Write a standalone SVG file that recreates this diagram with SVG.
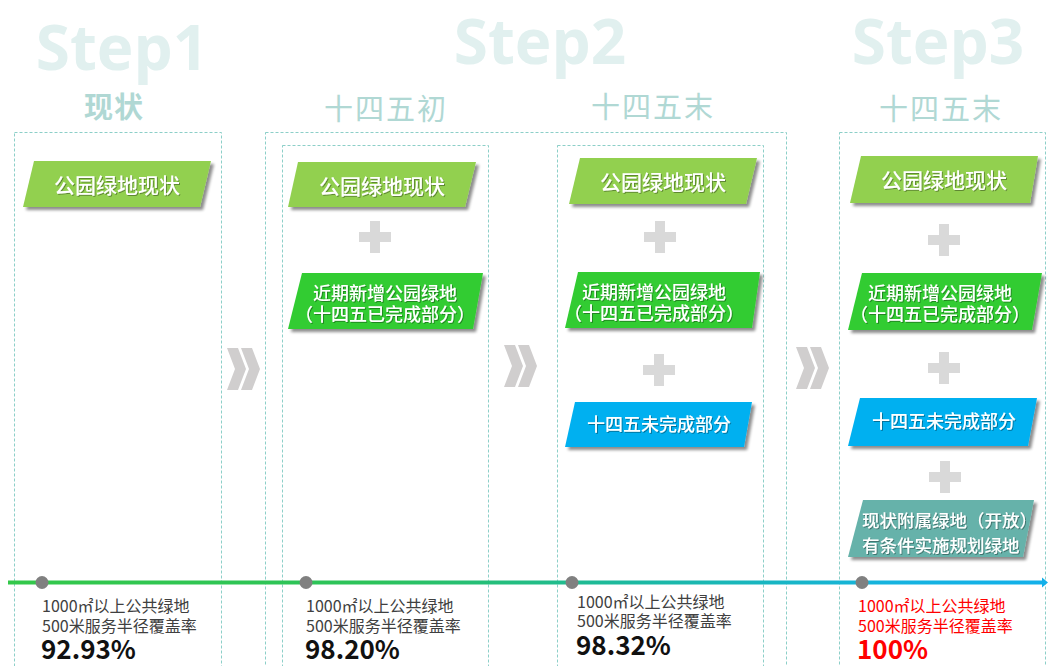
<svg xmlns="http://www.w3.org/2000/svg" width="1048" height="666" viewBox="0 0 1048 666">
<defs>
<style>
.frame{fill:none;stroke:#8ccfc8;stroke-width:1;stroke-dasharray:3 2}
.step{font-family:"Open Sans","DejaVu Sans",sans-serif;font-weight:bold;font-size:62px;fill:#e1f0ef;text-anchor:middle}
.ttl{font-family:"Noto Sans CJK SC",sans-serif;font-size:29px;fill:#b0d8d4;text-anchor:middle;letter-spacing:2px}
.lbl{font-family:"Noto Sans CJK SC",sans-serif;font-weight:500;fill:#ffffff;text-anchor:middle;dominant-baseline:central}
.plus{fill:#d9d9d9}
.chev{fill:#d0cece}
.note{font-family:"Noto Sans CJK SC",sans-serif;font-size:16px;fill:#404040}
.pct{font-family:"Noto Sans CJK SC",sans-serif;font-size:26px;font-weight:bold;fill:#111111}
.red{fill:#ff0000}
.dot{fill:#808080}
</style>
<filter id="sh" x="-10%" y="-20%" width="130%" height="150%">
<feGaussianBlur in="SourceAlpha" stdDeviation="1.5"/>
<feOffset dx="3" dy="3" result="b"/>
<feComponentTransfer><feFuncA type="linear" slope="0.45"/></feComponentTransfer>
<feMerge><feMergeNode/><feMergeNode in="SourceGraphic"/></feMerge>
</filter>
<filter id="ts" x="-5%" y="-20%" width="110%" height="150%">
<feGaussianBlur in="SourceAlpha" stdDeviation="0.6"/>
<feOffset dx="1" dy="1"/>
<feComponentTransfer><feFuncA type="linear" slope="0.35"/></feComponentTransfer>
<feMerge><feMergeNode/><feMergeNode in="SourceGraphic"/></feMerge>
</filter>
<linearGradient id="tl" x1="0" y1="0" x2="1" y2="0">
<stop offset="0" stop-color="#33c84a"/>
<stop offset="0.35" stop-color="#2cc35a"/>
<stop offset="0.6" stop-color="#1cb9a0"/>
<stop offset="0.85" stop-color="#15b3df"/>
<stop offset="1" stop-color="#12b0ea"/>
</linearGradient>
<g id="plusShape"><rect x="-16" y="-5" width="32" height="10"/><rect x="-5" y="-16" width="10" height="32"/></g>
<g id="chevShape"><polygon points="0,0 11,0 19,21 11,42 0,42 8,21"/><polygon points="14,0 25,0 33,21 25,42 14,42 22,21"/></g>
</defs>

<g id="titles">
<text class="step" x="122" y="70">Step1</text>
<text class="step" x="540" y="64">Step2</text>
<text class="step" x="938" y="64">Step3</text>
<text class="ttl" x="114" y="118" style="font-weight:bold;letter-spacing:1px">现状</text>
<text class="ttl" x="386" y="120">十四五初</text>
<text class="ttl" x="653" y="118">十四五末</text>
<text class="ttl" x="941" y="120">十四五末</text>
</g>

<g id="frames">
<rect class="frame" x="14.5" y="132.5" width="207" height="540"/>
<rect class="frame" x="265.5" y="132.5" width="521" height="540"/>
<rect class="frame" x="282.5" y="145.5" width="206" height="530"/>
<rect class="frame" x="557.5" y="145.5" width="206" height="530"/>
<rect class="frame" x="839.5" y="132.5" width="206" height="540"/>
</g>

<g id="connectors">
<rect x="8" y="580.5" width="1036" height="4" fill="url(#tl)"/>
<polygon points="1042,577.5 1048,582.5 1042,587.5" fill="#12b0ea"/>
<use href="#chevShape" class="chev" x="227" y="348"/>
<use href="#chevShape" class="chev" x="504" y="345"/>
<use href="#chevShape" class="chev" x="796" y="347"/>
<use href="#plusShape" class="plus" x="375" y="237"/>
<use href="#plusShape" class="plus" x="660" y="237"/>
<use href="#plusShape" class="plus" x="659" y="370"/>
<use href="#plusShape" class="plus" x="944" y="240"/>
<use href="#plusShape" class="plus" x="944" y="368"/>
<use href="#plusShape" class="plus" x="945" y="477"/>
</g>

<g id="n1-park">
<polygon points="34,161 211,161 200,207 23,207" fill="#92d050" filter="url(#sh)"/>
<text class="lbl" x="117" y="184" font-size="21" filter="url(#ts)">公园绿地现状</text>
</g>

<g id="n2a-park">
<polygon points="298,162 476,162 465,207 288,207" fill="#92d050" filter="url(#sh)"/>
<text class="lbl" x="382" y="185" font-size="21" filter="url(#ts)">公园绿地现状</text>
</g>
<g id="n2a-new">
<polygon points="302,273 483,273 473,329 288,329" fill="#33cc33" filter="url(#sh)"/>
<text class="lbl" x="385" y="292" font-size="18" filter="url(#ts)">近期新增公园绿地</text>
<text class="lbl" x="385" y="313" font-size="18" filter="url(#ts)">（十四五已完成部分）</text>
</g>

<g id="n2b-park">
<polygon points="580,158 757,158 746,204 569,204" fill="#92d050" filter="url(#sh)"/>
<text class="lbl" x="663" y="181" font-size="21" filter="url(#ts)">公园绿地现状</text>
</g>
<g id="n2b-new">
<polygon points="578,272 760,272 752,328 565,328" fill="#33cc33" filter="url(#sh)"/>
<text class="lbl" x="654" y="291" font-size="18" filter="url(#ts)">近期新增公园绿地</text>
<text class="lbl" x="654" y="312" font-size="18" filter="url(#ts)">（十四五已完成部分）</text>
</g>
<g id="n2b-todo">
<polygon points="575,402 752,402 744,447 565,447" fill="#00b0f0" filter="url(#sh)"/>
<text class="lbl" x="659" y="423" font-size="18" filter="url(#ts)">十四五未完成部分</text>
</g>

<g id="n3-park">
<polygon points="861,156 1038,156 1030,203 850,203" fill="#92d050" filter="url(#sh)"/>
<text class="lbl" x="944" y="179" font-size="21" filter="url(#ts)">公园绿地现状</text>
</g>
<g id="n3-new">
<polygon points="862,273 1042,273 1032,330 848,330" fill="#33cc33" filter="url(#sh)"/>
<text class="lbl" x="940" y="292" font-size="18" filter="url(#ts)">近期新增公园绿地</text>
<text class="lbl" x="940" y="313" font-size="18" filter="url(#ts)">（十四五已完成部分）</text>
</g>
<g id="n3-todo">
<polygon points="860,398 1037,398 1028,446 848,446" fill="#00b0f0" filter="url(#sh)"/>
<text class="lbl" x="944" y="420" font-size="18" filter="url(#ts)">十四五未完成部分</text>
</g>
<g id="n3-attached">
<polygon points="863,500 1034,500 1023,557 848,557" fill="#66b2aa" filter="url(#sh)"/>
<text class="lbl" x="862" y="519" font-size="17.5" style="text-anchor:start" filter="url(#ts)">现状附属绿地（开放）</text>
<text class="lbl" x="862" y="544" font-size="17.5" style="text-anchor:start" filter="url(#ts)">有条件实施规划绿地</text>
</g>

<g id="m1">
<circle class="dot" cx="42" cy="582.5" r="6.5"/>
<text class="note" x="42" y="612">1000㎡以上公共绿地</text>
<text class="note" x="42" y="632">500米服务半径覆盖率</text>
<text class="pct" x="41" y="659">92.93%</text>
</g>
<g id="m2">
<circle class="dot" cx="306" cy="582.5" r="6.5"/>
<text class="note" x="306" y="612">1000㎡以上公共绿地</text>
<text class="note" x="306" y="632">500米服务半径覆盖率</text>
<text class="pct" x="305" y="659">98.20%</text>
</g>
<g id="m3">
<circle class="dot" cx="572" cy="582.5" r="6.5"/>
<text class="note" x="577" y="608">1000㎡以上公共绿地</text>
<text class="note" x="577" y="627">500米服务半径覆盖率</text>
<text class="pct" x="576" y="655">98.32%</text>
</g>
<g id="m4">
<circle class="dot" cx="862" cy="582.5" r="6.5"/>
<text class="note red" x="858" y="612">1000㎡以上公共绿地</text>
<text class="note red" x="858" y="632">500米服务半径覆盖率</text>
<text class="pct red" x="857" y="659">100%</text>
</g>
</svg>
